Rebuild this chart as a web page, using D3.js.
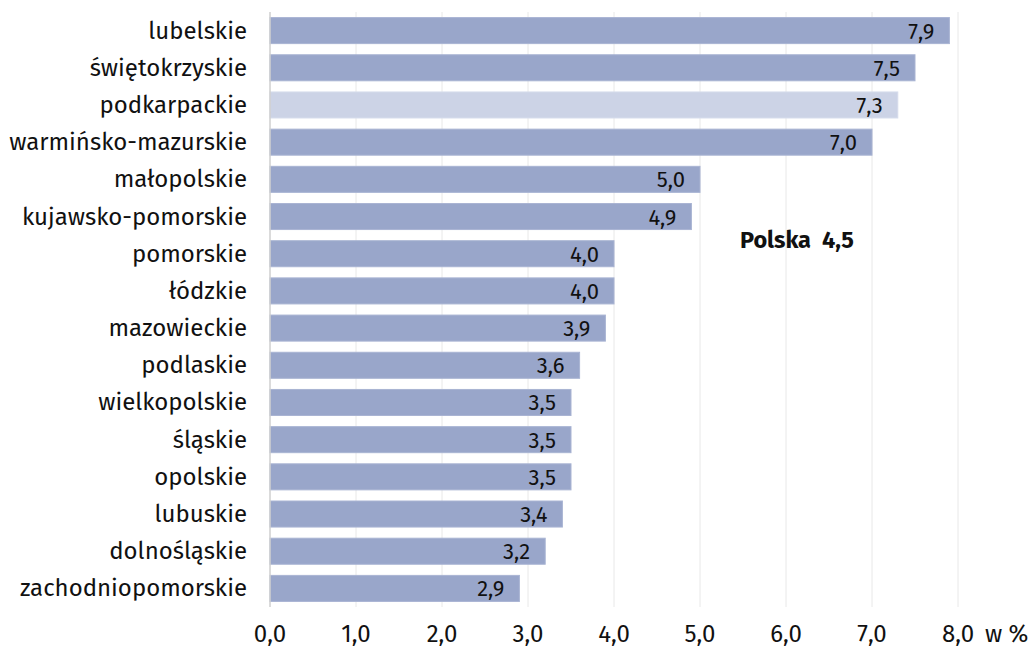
<!DOCTYPE html>
<html>
<head>
<meta charset="utf-8">
<script src="https://cdn.jsdelivr.net/npm/d3@7"></script>
<style>
  body { margin: 0; background: #fff; }
  svg { font-family: "Fira Sans", "Noto Sans", sans-serif; }
</style>
</head>
<body>
<svg id="chart" width="1033" height="648"></svg>
<script>
const regions = ['lubelskie', 'świętokrzyskie', 'podkarpackie', 'warmińsko-mazurskie', 'małopolskie',
    'kujawsko-pomorskie', 'pomorskie', 'łódzkie', 'mazowieckie', 'podlaskie', 'wielkopolskie',
    'śląskie', 'opolskie', 'lubuskie', 'dolnośląskie', 'zachodniopomorskie'];
const rates = [7.9, 7.5, 7.3, 7.0, 5.0, 4.9, 4.0, 4.0, 3.9, 3.6, 3.5, 3.5, 3.5, 3.4, 3.2, 2.9];
const highlighted = ['podkarpackie'];
const xTicks = [0, 1, 2, 3, 4, 5, 6, 7, 8];
const polska = 4.5;

const fmt = v => d3.format('.1f')(v).replace('.', ',');

const svg = d3.select('#chart');
const x = d3.scaleLinear().domain([0, 8]).range([270, 958]);
const y = d3.scaleBand().domain(regions).range([12, 607]).paddingInner(0.3).paddingOuter(0.15);

// gridlines
svg.append('g')
    .selectAll('line')
    .data(xTicks.slice(1))
    .join('line')
    .attr('x1', d => x(d)).attr('x2', d => x(d))
    .attr('y1', 12).attr('y2', 607)
    .attr('stroke', '#e8e8e8');

// bars
svg.append('g')
    .selectAll('rect')
    .data(regions)
    .join('rect')
    .attr('x', x(0))
    .attr('y', d => y(d))
    .attr('width', (d, i) => x(rates[i]) - x(0))
    .attr('height', y.bandwidth())
    .attr('fill', d => highlighted.includes(d) ? '#ccd3e6' : '#99a6ca')
    .attr('stroke', d => highlighted.includes(d) ? '#d6dcec' : '#a9b4d3')
    .attr('stroke-width', 1);

// value labels
svg.append('g')
    .selectAll('text')
    .data(regions)
    .join('text')
    .attr('x', (d, i) => x(rates[i]) - 15)
    .attr('y', d => y(d) + y.bandwidth() / 2 + 8)
    .attr('text-anchor', 'end')
    .attr('font-size', 22)
    .attr('fill', '#111')
    .text((d, i) => fmt(rates[i]));

// axis line
svg.append('line')
    .attr('x1', x(0)).attr('x2', x(0))
    .attr('y1', 12).attr('y2', 607)
    .attr('stroke', '#cfcfcf')
    .attr('stroke-width', 1.5);

// category labels
svg.append('g')
    .selectAll('text')
    .data(regions)
    .join('text')
    .attr('x', 247)
    .attr('y', d => y(d) + y.bandwidth() / 2 + 8)
    .attr('text-anchor', 'end')
    .attr('font-size', 24)
    .attr('fill', '#111')
    .text(d => d);

// x tick labels
svg.append('g')
    .selectAll('text')
    .data(xTicks)
    .join('text')
    .attr('x', d => x(d))
    .attr('y', 642)
    .attr('text-anchor', 'middle')
    .attr('font-size', 24)
    .attr('fill', '#111')
    .text(d => fmt(d));

svg.append('text')
    .attr('x', 985)
    .attr('y', 642)
    .attr('font-size', 24)
    .attr('fill', '#111')
    .text('w %');

svg.append('text')
    .attr('x', 740)
    .attr('y', 248)
    .attr('font-size', 23.5)
    .attr('font-weight', 'bold')
    .attr('fill', '#111')
    .attr('xml:space', 'preserve')
    .text('Polska  ' + fmt(polska));
</script>
</body>
</html>
